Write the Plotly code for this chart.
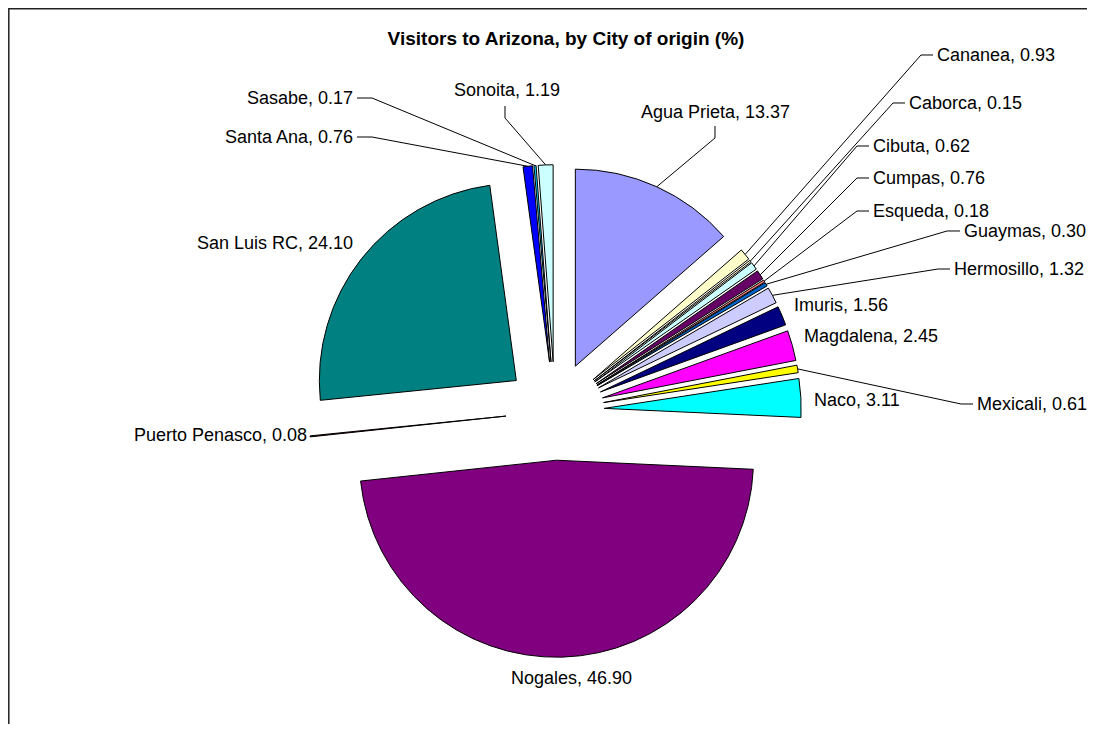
"""
Visitors to Arizona, by city of origin - exploded pie with Excel-style leader lines.
"""

import math
import plotly.graph_objects as go

cities = ["Agua Prieta", "Cananea", "Caborca", "Cibuta", "Cumpas", "Esqueda",
          "Guaymas", "Hermosillo", "Imuris", "Magdalena", "Mexicali", "Naco",
          "Nogales", "Puerto Penasco", "San Luis RC", "Santa Ana", "Sasabe", "Sonoita"]
shares = [13.37, 0.93, 0.15, 0.62, 0.76, 0.18,
          0.30, 1.32, 1.56, 2.45, 0.61, 3.11,
          46.90, 0.08, 24.10, 0.76, 0.17, 1.19]

colors = ["#9999FF", "#FFFFCC", "#FFFFCC", "#CCFFFF", "#660066", "#FF8080",
          "#0066CC", "#CCCCFF", "#000080", "#FF00FF", "#FFFF00", "#00FFFF",
          "#800080", "#800000", "#008080", "#0000FF", "#00CCFF", "#CCFFFF"]

# figure size; the page body adds an 8px margin, so page px = figure px + 8
W, H = 1087, 716
OFF = 8
# pie geometry in page pixels
CX, CY, R = 555, 411, 197
PULL = 0.25
FONT = "Arial, Liberation Sans, sans-serif"

# label placement (page px): text point, anchor, leader points from label towards slice
label_pos = {
    "Agua Prieta": ((715, 112), "center", [(715, 126), (715, 138)]),
    "Cananea": ((935, 55), "left", [(933, 55), (921, 55)]),
    "Caborca": ((907, 103), "left", [(905, 103), (893, 103)]),
    "Cibuta": ((871, 146), "left", [(869, 146), (857, 146)]),
    "Cumpas": ((871, 178), "left", [(869, 178), (857, 178)]),
    "Esqueda": ((871, 211), "left", [(869, 211), (857, 211)]),
    "Guaymas": ((962, 231), "left", [(960, 231), (947, 231)]),
    "Hermosillo": ((952, 269), "left", [(950, 269), (938, 269)]),
    "Imuris": ((792, 305), "left", None),
    "Magdalena": ((802, 336), "left", None),
    "Mexicali": ((975, 404), "left", [(973, 404), (961, 404)]),
    "Naco": ((812, 400), "left", None),
    "Nogales": ((571, 678), "center", None),
    "Puerto Penasco": ((309, 435), "right", None),
    "San Luis RC": ((355, 243), "right", None),
    "Santa Ana": ((355, 137), "right", [(357, 137), (372, 137)]),
    "Sasabe": ((355, 98), "right", [(357, 98), (372, 98)]),
    "Sonoita": ((452, 90), "left", [(505, 106), (505, 118)]),
}


def fx(x):
    return (x - OFF) / W


def fy(y):
    return 1 - (y - OFF) / H


box = 2 * R * (1 + PULL)
fig = go.Figure()
fig.add_trace(go.Pie(
    labels=cities, values=shares, sort=False, direction="clockwise", rotation=0,
    pull=PULL, textinfo="none", hoverinfo="label+value",
    marker=dict(colors=colors, line=dict(color="black", width=1)),
    domain=dict(x=[fx(CX - box / 2), fx(CX + box / 2)],
                y=[fy(CY + box / 2), fy(CY - box / 2)]),
))

total = sum(shares)
shapes = []
annotations = []
cum = 0
for city, v in zip(cities, shares):
    mid = math.radians(360 * (cum + v / 2) / total)
    cum += v
    dist = R * (1 + PULL)
    ex, ey = CX + dist * math.sin(mid), CY - dist * math.cos(mid)

    (tx, ty), anchor, leader = label_pos[city]
    annotations.append(dict(
        text=f"{city}, {v:.2f}", x=fx(tx), y=fy(ty), xref="paper", yref="paper",
        xanchor=anchor, yanchor="middle", showarrow=False,
        font=dict(family=FONT, size=18, color="black"),
    ))
    if leader:
        pts = leader + [(ex, ey)]
        path = "M " + " L ".join(f"{fx(px):.5f},{fy(py):.5f}" for px, py in pts)
        shapes.append(dict(type="path", path=path, xref="paper", yref="paper",
                           line=dict(color="black", width=1)))

# chart area border: only the top and left edges are inside the page
border = [(8.8, 760), (8.8, 8.8), (1120, 8.8)]
shapes.append(dict(type="path", xref="paper", yref="paper",
                   path="M " + " L ".join(f"{fx(px):.5f},{fy(py):.5f}" for px, py in border),
                   line=dict(color="#222222", width=1.5)))

fig.update_layout(
    width=W, height=H,
    margin=dict(l=0, r=0, t=0, b=0),
    paper_bgcolor="white", plot_bgcolor="white",
    showlegend=False,
    title=dict(text="Visitors to Arizona, by City of origin (%)",
               x=fx(566), y=fy(38), xanchor="center", yanchor="middle",
               font=dict(family=FONT, size=19, color="black", weight="bold")),
    shapes=shapes,
    annotations=annotations,
)

fig.write_html("out.html")
